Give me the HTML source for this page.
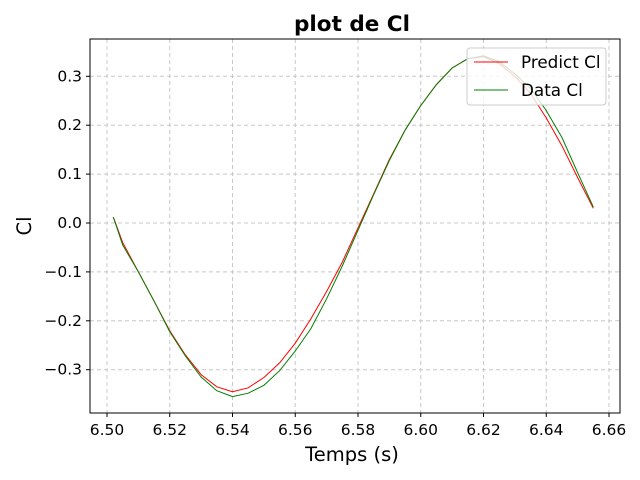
<!DOCTYPE html>
<html><head><meta charset="utf-8"><style>
body{margin:0;background:#fff;}
svg{display:block;font-family:"DejaVu Sans","Liberation Sans",sans-serif;}
</style></head><body>
<svg id="chart" width="640" height="480">
<text x="352" y="31" font-size="21.5" font-weight="bold" text-anchor="middle">plot de Cl</text>
<g id="grid"></g>
<g id="series"></g>
<rect x="90" y="39" width="530" height="374" fill="none" stroke="#000" stroke-width="1"/>
<g id="ticks"></g>
<text x="352" y="461" font-size="19.5" text-anchor="middle">Temps (s)</text>
<text transform="translate(31,226) rotate(-90)" font-size="19.5" text-anchor="middle">Cl</text>
<g>
<rect x="467" y="48" width="139" height="57" rx="3" fill="#fff" fill-opacity="0.8" stroke="#ccc"/>
<line x1="474" y1="62" x2="508" y2="62" stroke="red" stroke-width="1"/>
<text x="521" y="68" font-size="16.8">Predict Cl</text>
<line x1="474" y1="90" x2="508" y2="90" stroke="green" stroke-width="1"/>
<text x="521" y="96" font-size="16.8">Data Cl</text>
</g>
</svg>
<script>
const times=[6.502,6.505,6.51,6.515,6.52,6.525,6.53,6.535,6.54,6.545,6.55,6.555,6.56,6.565,6.57,6.575,6.58,6.585,6.59,6.595,6.60,6.605,6.61,6.615,6.62,6.625,6.63,6.635,6.64,6.645,6.65,6.655];
const predictCl=[0.012,-0.04,-0.10,-0.16,-0.22,-0.27,-0.31,-0.335,-0.345,-0.337,-0.316,-0.286,-0.246,-0.196,-0.14,-0.08,-0.01,0.06,0.13,0.19,0.24,0.283,0.317,0.336,0.34,0.326,0.3,0.265,0.215,0.158,0.093,0.03];
const dataCl=[0.012,-0.045,-0.10,-0.16,-0.222,-0.272,-0.315,-0.343,-0.355,-0.348,-0.332,-0.302,-0.262,-0.216,-0.155,-0.088,-0.015,0.058,0.128,0.19,0.24,0.283,0.317,0.336,0.342,0.33,0.305,0.275,0.23,0.175,0.103,0.033];
const xTicks=[6.50,6.52,6.54,6.56,6.58,6.60,6.62,6.64,6.66];
const yTicks=[-0.3,-0.2,-0.1,0.0,0.1,0.2,0.3];
const X=v=>107+(v-6.50)*(502/0.16);
const Y=v=>223-v*489;
const NS="http://www.w3.org/2000/svg";
const grid=document.getElementById('grid'),ticks=document.getElementById('ticks'),series=document.getElementById('series');
function mk(tag,attrs,parent){const e=document.createElementNS(NS,tag);for(const k in attrs)e.setAttribute(k,attrs[k]);parent.appendChild(e);return e;}
xTicks.forEach(t=>{const x=X(t);
const g=mk('line',{x1:x,x2:x,y1:39,y2:413,stroke:'#c8c8c8','stroke-dasharray':'4,3'},grid);


mk('line',{x1:x,x2:x,y1:413,y2:417,stroke:'#000'},ticks);
const l=mk('text',{x:x,y:435,'font-size':'15.5','text-anchor':'middle'},ticks);l.textContent=t.toFixed(2);

});
yTicks.forEach(t=>{const y=Y(t);
const g=mk('line',{x1:90,x2:620,y1:y,y2:y,stroke:'#c8c8c8','stroke-dasharray':'4,3'},grid);


mk('line',{x1:86,x2:90,y1:y,y2:y,stroke:'#000'},ticks);
const l=mk('text',{x:82,y:y+5,'font-size':'15.5','text-anchor':'end'},ticks);l.textContent=(t<0?'\u2212':'')+Math.abs(t).toFixed(1);

});
function line(vals,color,name){const d=vals.map((v,i)=>(i?'L':'M')+X(times[i]).toFixed(1)+','+Y(v).toFixed(1)).join('');
const p=mk('path',{d:d,fill:'none',stroke:color,'stroke-width':'1'},series);

}
line(predictCl,'red','predict-cl-line');
line(dataCl,'green','data-cl-line');
</script>
</body></html>
